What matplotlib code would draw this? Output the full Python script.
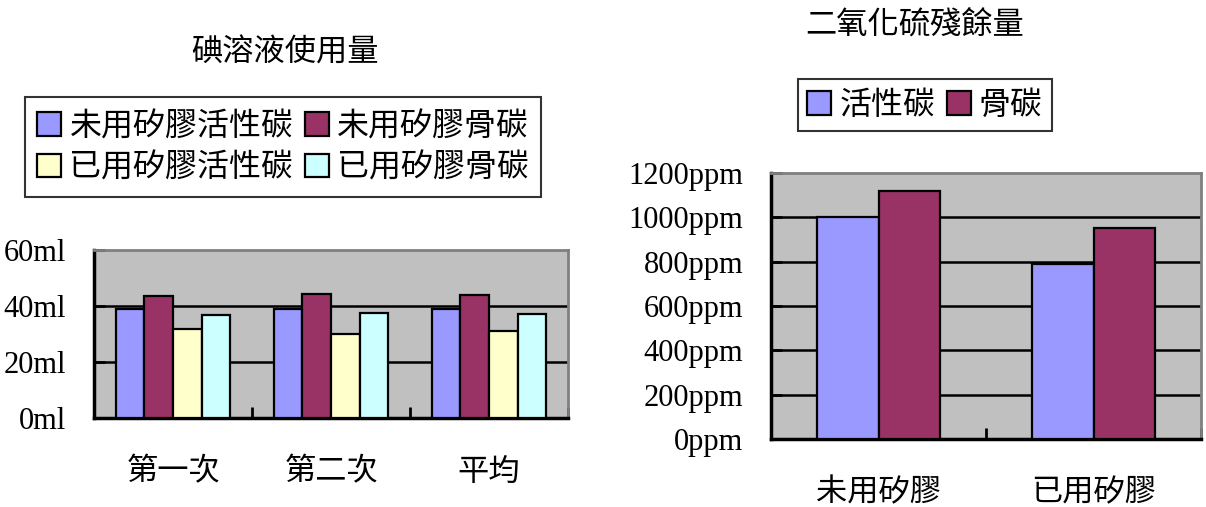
import numpy as np
import matplotlib.pyplot as plt
from matplotlib.patches import Patch
from matplotlib.ticker import FixedLocator

plt.rcParams['font.family'] = ['Liberation Serif', 'Noto Sans CJK TC']

# 碘溶液使用量
left_cats = ['第一次', '第二次', '平均']
left_names = ['未用矽膠活性碳', '未用矽膠骨碳', '已用矽膠活性碳', '已用矽膠骨碳']
left_vals = [
    [39.0, 39.1, 39.0],
    [43.6, 44.2, 43.8],
    [31.7, 30.1, 30.9],
    [36.8, 37.4, 37.1],
]
left_ticks = [0, 20, 40, 60]
left_ticklabels = ['0ml', '20ml', '40ml', '60ml']

# 二氧化硫殘餘量
right_cats = ['未用矽膠', '已用矽膠']
right_names = ['活性碳', '骨碳']
right_vals = [
    [1003, 789],
    [1121, 952],
]
right_ticks = [0, 200, 400, 600, 800, 1000, 1200]
right_ticklabels = ['%dppm' % v for v in right_ticks]

colors = ['#9999FF', '#993366', '#FFFFCC', '#CCFFFF']
cjk = ['Noto Sans CJK TC', 'DejaVu Sans']

W, H = 1206, 507
fig = plt.figure(figsize=(W / 100, H / 100), dpi=100)


def px_axes(x0, y0, x1, y1):
    return fig.add_axes([x0 / W, 1 - y1 / H, (x1 - x0) / W, (y1 - y0) / H])


def bar_chart(ax, cats, vals, ticks, ticklabels, ymax):
    n = len(vals)
    w = 1.0 / (n + 1.5)
    x = np.arange(len(cats))
    for i, v in enumerate(vals):
        ax.bar(x - n * w / 2 + (i + 0.5) * w, v, w, color=colors[i],
               edgecolor='black', linewidth=1.6, zorder=3)
    ax.set_xlim(-0.5, len(cats) - 0.5)
    ax.set_ylim(0, ymax)
    ax.set_facecolor('#C0C0C0')
    ax.set_xticks(x)
    ax.set_xticklabels(cats, family=cjk, fontsize=22.5)
    ax.xaxis.set_minor_locator(FixedLocator(np.arange(len(cats) + 1) - 0.5))
    ax.tick_params(axis='x', which='major', length=0, pad=27)
    ax.tick_params(axis='x', which='minor', direction='in', length=8, width=2)
    ax.set_yticks(ticks)
    ax.set_yticklabels(ticklabels, fontsize=22)
    ax.tick_params(axis='y', direction='in', length=8, width=2, pad=20)
    ax.yaxis.grid(True, color='black', linewidth=1.8, zorder=1)
    ax.get_ygridlines()[-1].set_visible(False)
    ax.get_ygridlines()[0].set_visible(False)
    ax.set_axisbelow(True)
    for s in ['left', 'bottom']:
        ax.spines[s].set_linewidth(2.5)
        ax.spines[s].set_color('black')
    for s in ['top', 'right']:
        ax.spines[s].set_linewidth(2)
        ax.spines[s].set_color('#808080')


ax1 = px_axes(94, 250, 568, 418)
bar_chart(ax1, left_cats, left_vals, left_ticks, left_ticklabels, 60)
ax2 = px_axes(771, 173, 1201, 439)
bar_chart(ax2, right_cats, right_vals, right_ticks, right_ticklabels, 1200)

fig.text(285 / W, 1 - 53 / H, '碘溶液使用量', family=cjk, fontsize=22.5,
         ha='center', va='center')
fig.text(915 / W, 1 - 26 / H, '二氧化硫殘餘量', family=cjk, fontsize=22.5,
         ha='center', va='center')

# legend fills column by column, so order handles to read row by row
order = [0, 2, 1, 3]
h1 = [Patch(facecolor=colors[i], edgecolor='black', linewidth=1.6) for i in order]
leg1 = fig.legend(h1, [left_names[i] for i in order], ncol=2, loc='center',
                  bbox_to_anchor=(283 / W, 1 - 147 / H),
                  prop={'family': cjk, 'size': 23}, frameon=True, fancybox=False,
                  edgecolor='black', handlelength=0.75, handleheight=0.75,
                  handletextpad=0.25, columnspacing=0.35, borderpad=0.4,
                  labelspacing=0.3, borderaxespad=0)
leg1.get_frame().set_linewidth(1.5)

h2 = [Patch(facecolor=colors[i], edgecolor='black', linewidth=1.6) for i in range(2)]
leg2 = fig.legend(h2, right_names, ncol=2, loc='center',
                  bbox_to_anchor=(925 / W, 1 - 105 / H),
                  prop={'family': cjk, 'size': 23}, frameon=True, fancybox=False,
                  edgecolor='black', handlelength=0.75, handleheight=0.75,
                  handletextpad=0.25, columnspacing=0.35, borderpad=0.3,
                  borderaxespad=0)
leg2.get_frame().set_linewidth(1.5)

fig.savefig('out.png', dpi=100, facecolor='white')
